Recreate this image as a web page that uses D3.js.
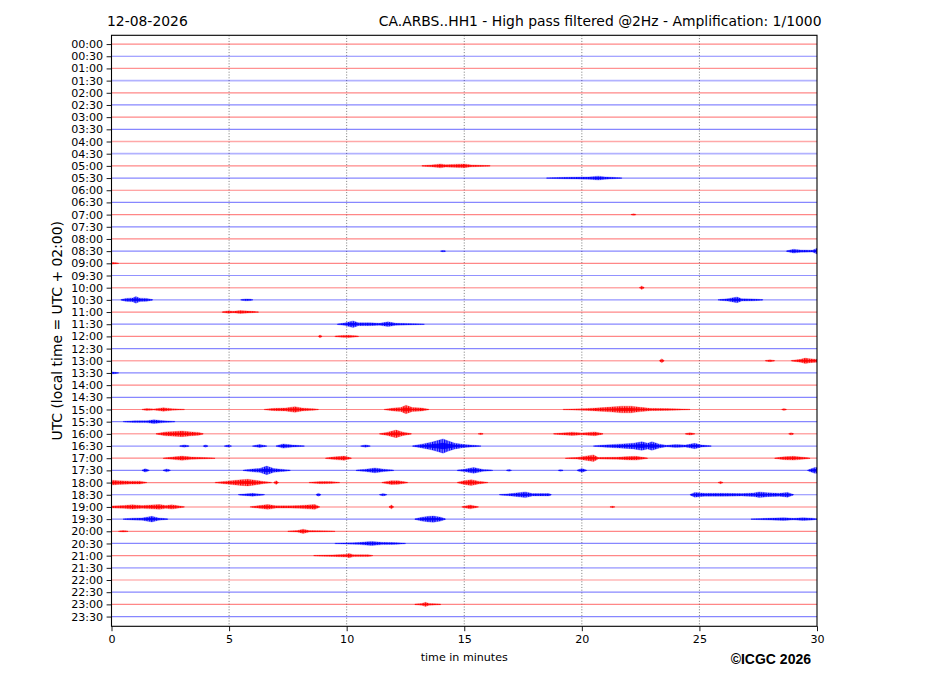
<!DOCTYPE html>
<html><head><meta charset="utf-8">
<script src="https://cdn.jsdelivr.net/npm/d3@7/dist/d3.min.js"></script>
<style>
body{margin:0;background:#fff;}
svg text{font-family:"DejaVu Sans",sans-serif;}
</style></head>
<body><svg id="c" width="927" height="696"></svg>
<script>
// ---------- data ----------
const dateLabel = "12-08-2026";
const titleLabel = "CA.ARBS..HH1 - High pass filtered @2Hz - Amplification: 1/1000";
const yAxisLabel = "UTC (local time = UTC + 02:00)";
const xAxisLabel = "time in minutes";
const creditLabel = "©ICGC 2026";
const rowLabels = ["00:00","00:30","01:00","01:30","02:00","02:30","03:00","03:30","04:00","04:30",
 "05:00","05:30","06:00","06:30","07:00","07:30","08:00","08:30","09:00","09:30",
 "10:00","10:30","11:00","11:30","12:00","12:30","13:00","13:30","14:00","14:30",
 "15:00","15:30","16:00","16:30","17:00","17:30","18:00","18:30","19:00","19:30",
 "20:00","20:30","21:00","21:30","22:00","22:30","23:00","23:30"];
const xTicks = [0,5,10,15,20,25,30];
const rowColors = ["red","blue"];
// background noise half-amplitude per row (row units)
const rowNoise = [0.05,0.05,0.06,0.09,0.05,0.05,0.05,0.05,0.08,0.09,
 0.05,0.05,0.05,0.05,0.05,0.05,0.05,0.05,0.05,0.06,
 0.08,0.06,0.05,0.05,0.05,0.05,0.08,0.05,0.05,0.05,
 0.05,0.05,0.08,0.06,0.05,0.05,0.05,0.05,0.08,0.05,
 0.05,0.05,0.05,0.09,0.06,0.05,0.05,0.05];
// bursts: [row, [[minute, envelope amplitude (row units)], ...]]
const bursts = [
 [10,[[13.2,0.03],[13.6,0.1],[14.0,0.2],[14.2,0.12],[14.5,0.15],[15.0,0.2],[15.3,0.1],[16.1,0.03]]],
 [11,[[18.5,0.03],[19.3,0.08],[20.3,0.12],[20.7,0.2],[21.0,0.12],[21.7,0.03]]],
 [14,[[22.1,0.03],[22.2,0.08],[22.3,0.03]]],
 [17,[[14.0,0.03],[14.1,0.08],[14.2,0.03]]],
 [17,[[28.7,0.03],[29.0,0.2],[29.3,0.12],[29.8,0.1],[30,0.3]]],
 [18,[[0,0.1],[0.3,0.03]]],
 [20,[[22.45,0.03],[22.55,0.18],[22.65,0.03]]],
 [21,[[0.4,0.03],[0.6,0.15],[0.9,0.2],[1.04,0.35],[1.2,0.18],[1.5,0.15],[1.75,0.03]]],
 [21,[[5.5,0.03],[5.7,0.1],[5.9,0.08],[6.0,0.03]]],
 [21,[[25.8,0.03],[26.2,0.12],[26.6,0.3],[26.8,0.12],[27.3,0.1],[27.7,0.03]]],
 [22,[[4.7,0.03],[4.95,0.12],[5.2,0.08],[5.46,0.15],[5.8,0.1],[6.25,0.03]]],
 [23,[[9.6,0.03],[9.9,0.12],[10.27,0.35],[10.5,0.15],[11.0,0.15],[11.4,0.1],[11.76,0.25],[12.1,0.1],[12.6,0.08],[13.3,0.03]]],
 [24,[[8.8,0.03],[8.87,0.15],[8.95,0.03]]],
 [24,[[9.5,0.03],[9.8,0.1],[10.1,0.12],[10.5,0.03]]],
 [26,[[23.3,0.03],[23.4,0.2],[23.5,0.03]]],
 [26,[[27.8,0.03],[28.0,0.1],[28.2,0.03]]],
 [26,[[28.9,0.03],[29.3,0.15],[29.5,0.28],[29.7,0.2],[30,0.15]]],
 [27,[[0,0.12],[0.3,0.03]]],
 [30,[[1.3,0.03],[1.5,0.1],[1.8,0.06],[2.2,0.18],[2.6,0.08],[3.1,0.03]]],
 [30,[[6.5,0.03],[6.9,0.12],[7.4,0.15],[7.8,0.3],[8.1,0.15],[8.6,0.08],[8.8,0.03]]],
 [30,[[11.6,0.03],[12.0,0.15],[12.3,0.2],[12.52,0.45],[12.8,0.2],[13.2,0.15],[13.5,0.03]]],
 [30,[[19.2,0.03],[20.0,0.08],[20.6,0.15],[21.2,0.25],[21.7,0.35],[22.1,0.35],[22.4,0.25],[22.9,0.12],[23.6,0.1],[24.6,0.03]]],
 [30,[[28.5,0.03],[28.6,0.1],[28.7,0.03]]],
 [31,[[0.5,0.03],[1.0,0.1],[1.5,0.1],[1.8,0.2],[2.2,0.1],[2.7,0.03]]],
 [32,[[1.9,0.03],[2.3,0.2],[2.7,0.25],[3.0,0.3],[3.3,0.22],[3.7,0.15],[3.9,0.03]]],
 [32,[[11.4,0.03],[11.7,0.15],[12.1,0.4],[12.4,0.18],[12.75,0.03]]],
 [32,[[15.6,0.03],[15.7,0.08],[15.8,0.03]]],
 [32,[[18.8,0.03],[19.3,0.12],[19.6,0.18],[20.0,0.1],[20.55,0.2],[20.9,0.03]]],
 [32,[[24.4,0.03],[24.6,0.12],[24.8,0.03]]],
 [32,[[28.8,0.03],[28.9,0.12],[29.0,0.03]]],
 [33,[[2.9,0.03],[3.1,0.12],[3.3,0.03]]],
 [33,[[3.9,0.03],[4.0,0.12],[4.1,0.03]]],
 [33,[[4.8,0.03],[4.95,0.1],[5.1,0.03]]],
 [33,[[6.0,0.03],[6.3,0.15],[6.6,0.03]]],
 [33,[[7.0,0.03],[7.3,0.22],[7.7,0.1],[8.2,0.03]]],
 [33,[[10.6,0.03],[10.8,0.12],[11.0,0.03]]],
 [33,[[12.8,0.03],[13.2,0.2],[13.6,0.4],[13.9,0.6],[14.1,0.75],[14.3,0.55],[14.6,0.3],[15.0,0.15],[15.7,0.03]]],
 [33,[[20.5,0.03],[21.0,0.12],[21.6,0.2],[22.2,0.3],[22.55,0.45],[22.8,0.3],[22.98,0.45],[23.3,0.2],[23.6,0.08],[24.0,0.15],[24.4,0.1],[24.8,0.28],[25.1,0.1],[25.5,0.03]]],
 [34,[[2.2,0.03],[2.6,0.12],[3.0,0.22],[3.4,0.12],[4.4,0.03]]],
 [34,[[9.1,0.03],[9.4,0.12],[9.9,0.22],[10.2,0.03]]],
 [34,[[19.3,0.03],[19.8,0.08],[20.5,0.35],[20.7,0.08],[21.5,0.1],[22.0,0.18],[22.3,0.2],[22.8,0.03]]],
 [34,[[28.2,0.03],[28.6,0.15],[29.0,0.2],[29.5,0.08],[29.7,0.03]]],
 [35,[[1.3,0.03],[1.43,0.18],[1.6,0.03]]],
 [35,[[2.2,0.03],[2.35,0.15],[2.5,0.03]]],
 [35,[[5.6,0.03],[6.0,0.15],[6.3,0.2],[6.6,0.45],[6.9,0.2],[7.4,0.08],[7.6,0.03]]],
 [35,[[10.4,0.03],[10.8,0.12],[11.2,0.25],[11.6,0.12],[12.0,0.03]]],
 [35,[[14.7,0.03],[15.0,0.12],[15.4,0.3],[15.8,0.1],[16.2,0.03]]],
 [35,[[16.8,0.03],[16.9,0.1],[17.0,0.03]]],
 [35,[[19.0,0.03],[19.1,0.08],[19.2,0.03]]],
 [35,[[19.8,0.03],[20.0,0.2],[20.2,0.03]]],
 [35,[[29.6,0.03],[29.9,0.3],[30,0.3]]],
 [36,[[0,0.25],[0.3,0.2],[0.8,0.15],[1.2,0.15],[1.5,0.03]]],
 [36,[[4.4,0.03],[4.9,0.15],[5.5,0.3],[5.8,0.35],[6.1,0.25],[6.5,0.1],[6.8,0.03]]],
 [36,[[6.9,0.03],[7.0,0.2],[7.1,0.03]]],
 [36,[[8.4,0.03],[8.9,0.12],[9.3,0.1],[9.7,0.03]]],
 [36,[[11.5,0.03],[11.9,0.2],[12.2,0.18],[12.6,0.03]]],
 [36,[[14.7,0.03],[15.0,0.2],[15.3,0.3],[15.6,0.15],[16.0,0.03]]],
 [36,[[25.8,0.03],[25.9,0.12],[26.0,0.03]]],
 [37,[[5.4,0.03],[6.0,0.15],[6.5,0.03]]],
 [37,[[8.7,0.03],[8.8,0.15],[8.9,0.03]]],
 [37,[[11.4,0.03],[11.55,0.12],[11.7,0.03]]],
 [37,[[16.5,0.03],[17.0,0.12],[17.6,0.3],[17.9,0.12],[18.6,0.12],[18.7,0.03]]],
 [37,[[24.6,0.03],[24.8,0.25],[25.2,0.15],[26.0,0.15],[26.8,0.12],[27.3,0.18],[27.55,0.3],[27.9,0.2],[28.4,0.15],[28.75,0.25],[29.0,0.03]]],
 [38,[[0,0.1],[0.5,0.15],[0.87,0.22],[1.3,0.15],[2.05,0.25],[2.3,0.15],[2.57,0.22],[3.1,0.03]]],
 [38,[[5.9,0.03],[6.2,0.12],[6.65,0.25],[7.0,0.12],[7.6,0.12],[8.0,0.15],[8.65,0.25],[8.85,0.03]]],
 [38,[[11.8,0.03],[11.9,0.2],[12.0,0.03]]],
 [38,[[14.9,0.03],[15.25,0.2],[15.6,0.03]]],
 [38,[[21.2,0.03],[21.3,0.08],[21.4,0.03]]],
 [39,[[0.5,0.03],[0.9,0.1],[1.3,0.12],[1.72,0.3],[2.0,0.12],[2.4,0.03]]],
 [39,[[12.9,0.03],[13.2,0.2],[13.5,0.3],[13.7,0.32],[14.0,0.2],[14.2,0.03]]],
 [39,[[27.2,0.03],[27.8,0.08],[28.6,0.15],[29.0,0.08],[29.4,0.15],[29.8,0.1],[30,0.03]]],
 [40,[[0.3,0.03],[0.5,0.08],[0.7,0.03]]],
 [40,[[7.5,0.03],[7.9,0.08],[8.15,0.22],[8.4,0.08],[9.5,0.03]]],
 [41,[[9.5,0.03],[10.3,0.08],[10.6,0.12],[11.05,0.22],[11.5,0.12],[12.0,0.1],[12.5,0.03]]],
 [42,[[8.6,0.03],[9.4,0.08],[10.0,0.15],[10.1,0.22],[10.3,0.1],[10.9,0.1],[11.1,0.03]]],
 [46,[[12.9,0.03],[13.2,0.1],[13.35,0.22],[13.5,0.1],[14.0,0.03]]]
];

// ---------- layout ----------
const svg = d3.select("#c");
const L = 111.5, R = 817, T = 35.3, B = 626.3;
const x = d3.scaleLinear().domain([0,30]).range([L,R]);
const y = d3.scaleLinear().domain([-0.72,47.8]).range([T,B]);
const amp = d3.scaleLinear().domain([0,1]).range([0, 0.78*(y(1)-y(0))]);
const strokeColor = d3.scaleOrdinal().domain(rowColors).range(["#ff0000","#0000ff"]);
const baseOpacity = d3.scaleLinear().domain([0.05,0.09]).range([0.47,0.3]).clamp(true);

const defs = svg.append("defs");
defs.append("clipPath").attr("id","clip")
  .append("rect").attr("x",L).attr("y",T).attr("width",R-L).attr("height",B-T);
rowColors.forEach(c=>{
  const p = defs.append("pattern").attr("id","pat-"+c).attr("patternUnits","userSpaceOnUse")
    .attr("width",2.4).attr("height",3);
  p.append("rect").attr("width",2.4).attr("height",3).attr("fill",strokeColor(c)).attr("fill-opacity",0.45);
  p.append("rect").attr("width",1.2).attr("height",3).attr("fill",strokeColor(c));
});

const plot = svg.append("g").attr("clip-path","url(#clip)");

// vertical dotted grid
plot.selectAll("line.grid").data(xTicks.slice(1,-1)).enter().append("line")
  .attr("x1",d=>x(d)).attr("x2",d=>x(d)).attr("y1",T).attr("y2",B)
  .attr("stroke","#555").attr("stroke-width",0.8).attr("stroke-dasharray","1,1.8");

// baselines (background noise bands)
plot.selectAll("line.base").data(rowLabels).enter().append("line")
  .attr("x1",x(0)).attr("x2",x(30))
  .attr("y1",(d,i)=>y(i)).attr("y2",(d,i)=>y(i))
  .attr("stroke",(d,i)=>strokeColor(rowColors[i%2]))
  .attr("stroke-opacity",(d,i)=>baseOpacity(rowNoise[i]))
  .attr("stroke-width",(d,i)=>Math.max(1.2, 2*amp(rowNoise[i])));

// bursts
const area = d3.area().x(d=>x(d[0])).curve(d3.curveLinear);
plot.selectAll("path.burst").data(bursts).enter().append("path")
  .attr("d",b=>area.y0(d=>y(b[0])-amp(d[1])).y1(d=>y(b[0])+amp(d[1]))(b[1]))
  .attr("fill",b=>`url(#pat-${rowColors[b[0]%2]})`)
  .attr("stroke",b=>strokeColor(rowColors[b[0]%2]))
  .attr("stroke-width",0.4)
  .attr("stroke-opacity",0.6);
// dense core line through each burst
plot.selectAll("path.core").data(bursts).enter().append("path")
  .attr("d",b=>area.y0(d=>y(b[0])-amp(d[1])*0.45).y1(d=>y(b[0])+amp(d[1])*0.45)(b[1]))
  .attr("fill",b=>strokeColor(rowColors[b[0]%2]))
  .attr("fill-opacity",0.9);

// frame
svg.append("rect").attr("x",L).attr("y",T).attr("width",R-L).attr("height",B-T)
  .attr("fill","none").attr("stroke","#000").attr("stroke-width",1.1);

// axes
const yAxis = d3.axisLeft(y).tickValues(d3.range(rowLabels.length))
  .tickFormat(i=>rowLabels[i]).tickSize(4.9).tickPadding(3.5);
const gy = svg.append("g").attr("transform",`translate(${L},0)`).call(yAxis);
gy.select(".domain").remove();
gy.selectAll("text").attr("font-size","11.1px").attr("font-family","DejaVu Sans").attr("fill","#000");
gy.selectAll("line").attr("stroke","#000").attr("stroke-width",0.9);

const xAxis = d3.axisBottom(x).tickValues(xTicks).tickSize(4.9).tickPadding(3.5);
const gx = svg.append("g").attr("transform",`translate(0,${B})`).call(xAxis);
gx.select(".domain").remove();
gx.selectAll("text").attr("font-size","11.1px").attr("font-family","DejaVu Sans").attr("fill","#000");
gx.selectAll("line").attr("stroke","#000").attr("stroke-width",0.9);

// titles
svg.append("text").attr("x",107).attr("y",25.5).attr("font-size","13.9px").text(dateLabel);
svg.append("text").attr("x",821.5).attr("y",25.5).attr("text-anchor","end").attr("font-size","13.9px").text(titleLabel);
svg.append("text").attr("transform",`translate(62,${(T+B)/2}) rotate(-90)`)
  .attr("text-anchor","middle").attr("font-size","13.9px").text(yAxisLabel);
svg.append("text").attr("x",(L+R)/2).attr("y",660.5).attr("text-anchor","middle").attr("font-size","11.1px").text(xAxisLabel);
svg.append("text").attr("x",811).attr("y",663.5).attr("text-anchor","end")
  .style("font-family","'Liberation Sans',Arial,sans-serif").attr("font-weight","bold").attr("font-size","14px").text(creditLabel);
</script></body></html>
